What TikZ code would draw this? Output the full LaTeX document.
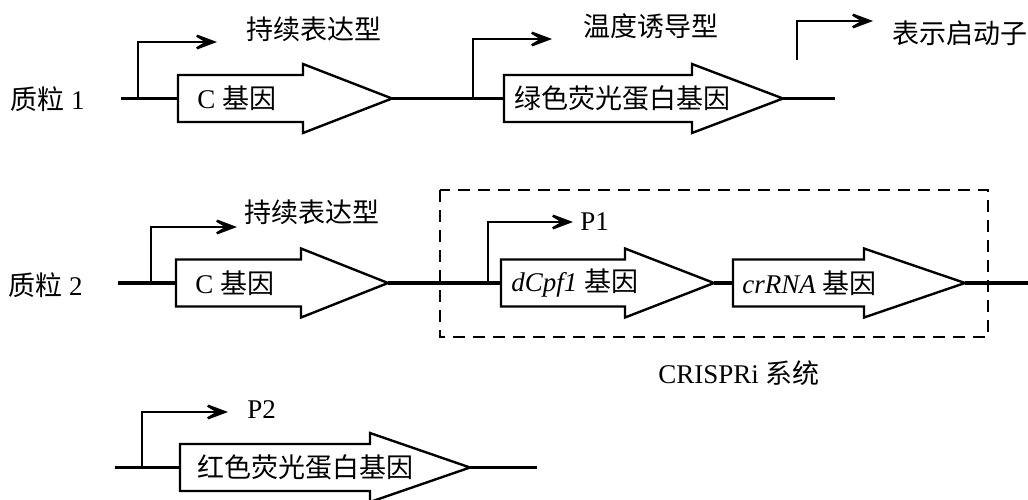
\documentclass[tikz,border=0pt]{standalone}
\usepackage{fontspec}
\setmainfont{Liberation Serif}
\newfontfamily\cjk{Noto Sans CJK SC}
\usetikzlibrary{arrows.meta}
\tikzset{
  lbl/.style={font=\fontsize{19.2}{23}\selectfont,inner sep=0pt},
  dna/.style={line width=2.3pt},
  genebox/.style={line width=1.7pt,line join=miter,fill=white},
  prom/.style={line width=1.7pt,-{Stealth[length=0.8cm,width=0.6cm,inset=0.5cm]}},
  crisprbox/.style={line width=1.5pt,dash pattern=on 0.3cm off 0.2cm}
}
\begin{document}
\begin{tikzpicture}[x=0.025cm,y=-0.025cm]
\useasboundingbox (0,0) rectangle (1028,500);
\def\hb{23.5}
\def\hh{34.5}
% gene: name, left, head start, tip, y
\def\gene#1#2#3#4#5{%
  \draw[genebox] (#2,#5-\hb) -- (#3,#5-\hb) -- (#3,#5-\hh) -- (#4,#5) -- (#3,#5+\hh) -- (#3,#5+\hb) -- (#2,#5+\hb) -- cycle;
  \coordinate (#1-l) at (#2,#5);
  \coordinate (#1-r) at (#4,#5);}
% 质粒 1
\node[lbl,anchor=west] (plasA) at (10,99) {{\cjk 质粒} 1};
\gene{cA}{178}{303}{392}{98.5}
\gene{gfp}{504}{692}{783}{98.5}
\node[lbl,anchor=west] (cAtxt) at (197,98.5) {C {\cjk 基因}};
\node[lbl,anchor=west] (gfptxt) at (514,98.5) {\cjk 绿色荧光蛋白基因};
\coordinate (bbA0) at (121,98.5);
\coordinate (bbA1) at (835,98.5);
\draw[dna] (bbA0) -- (cA-l);
\draw[dna] (cA-r) -- (gfp-l);
\draw[dna] (gfp-r) -- (bbA1);
\coordinate (pA1) at (138,98.5);
\coordinate (tA1) at (217,42);
\draw[prom] (pA1) |- (tA1);
\coordinate (pA2) at (473,98.5);
\coordinate (tA2) at (552,39);
\draw[prom] (pA2) |- (tA2);
\node[lbl] (constA) at (314,29) {\cjk 持续表达型};
\node[lbl] (heat) at (651,26) {\cjk 温度诱导型};
% 图例
\coordinate (key0) at (797,60);
\coordinate (key1) at (873,21);
\draw[prom] (key0) |- (key1);
\node[lbl,anchor=west] (keytxt) at (892,33) {\cjk 表示启动子};
% 质粒 2
\node[lbl,anchor=west] (plasB) at (8,285) {{\cjk 质粒} 2};
\gene{cB}{176}{301}{388}{283}
\gene{dcpf}{501}{625}{714}{283}
\gene{crna}{733}{864}{965}{283}
\node[lbl,anchor=west] (cBtxt) at (195,283) {C {\cjk 基因}};
\node[lbl,anchor=west] (dcpftxt) at (511,283) {\textit{dCpf1} {\cjk 基因}};
\node[lbl,anchor=west] (crnatxt) at (742,283) {\textit{crRNA} {\cjk 基因}};
\coordinate (bbB0) at (118,283);
\coordinate (bbB1) at (1028,283);
\draw[dna] (bbB0) -- (cB-l);
\draw[dna] (cB-r) -- (dcpf-l);
\draw[dna] (dcpf-r) -- (crna-l);
\draw[dna] (crna-r) -- (bbB1);
\coordinate (pB1) at (151,283);
\coordinate (tB1) at (237,227);
\draw[prom] (pB1) |- (tB1);
\coordinate (pB2) at (488,283);
\coordinate (tB2) at (573,222);
\draw[prom] (pB2) |- (tB2);
\node[lbl] (constB) at (312,212) {\cjk 持续表达型};
\node[lbl,anchor=west] (p1txt) at (580,222) {P1};
\draw[crisprbox] (440,190) rectangle (988,337);
\node[lbl] (crispr) at (739,373) {CRISPRi {\cjk 系统}};
% 红色荧光蛋白
\gene{rfp}{180}{370}{470}{467.5}
\node[lbl,anchor=west] (rfptxt) at (197,467.5) {\cjk 红色荧光蛋白基因};
\coordinate (bbC0) at (115,467.5);
\coordinate (bbC1) at (537,467.5);
\draw[dna] (bbC0) -- (rfp-l);
\draw[dna] (rfp-r) -- (bbC1);
\coordinate (pC1) at (142,467.5);
\coordinate (tC1) at (228,412);
\draw[prom] (pC1) |- (tC1);
\node[lbl,anchor=west] (p2txt) at (247,410) {P2};
\end{tikzpicture}
\end{document}
